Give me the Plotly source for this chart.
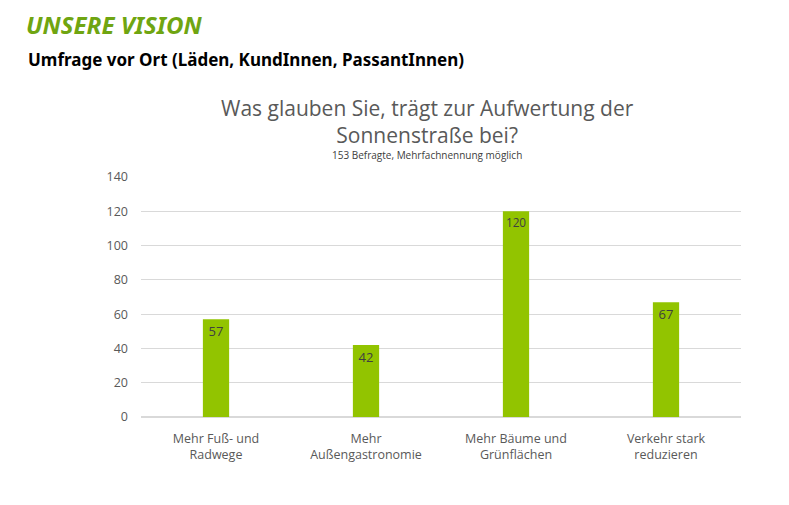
import plotly.graph_objects as go

categories = ["Mehr Fuß- und<br>Radwege", "Mehr<br>Außengastronomie", "Mehr Bäume und<br>Grünflächen", "Verkehr stark<br>reduzieren"]
values = [57, 42, 120, 67]
y_ticks = [0, 20, 40, 60, 80, 100, 120, 140]

# page body has an 8px margin; compensate so the figure lands where the reference is
OFF = 8
W, H = 789 - OFF, 505 - OFF
L, R, T, B = 141 - OFF, 48, 177 - OFF, 88

fig = go.Figure()
fig.add_trace(go.Bar(
    x=categories, y=values, width=0.175,
    marker=dict(color="#92C400", line=dict(width=0)),
    text=[str(v) for v in values], textposition="inside", insidetextanchor="end",
    textfont=dict(family="Open Sans", size=13, color="#404040"),
    textangle=0,
))

def px_y(y):
    y = y - OFF
    return 1 - (y - T) / (H - T - B)

def px_x(x):
    x = x - OFF
    return (x - L) / (W - L - R)

ann = [
    dict(text="<b><i>UNSERE VISION</i></b>", x=px_x(25), y=px_y(24.5), xanchor="left", yanchor="middle",
         borderpad=0, font=dict(family="Noto Sans", size=24, color="#6FA511")),
    dict(text="<b>Umfrage vor Ort (Läden, KundInnen, PassantInnen)</b>", x=px_x(26), y=px_y(59), xanchor="left", yanchor="middle",
         font=dict(family="Noto Sans", size=17, color="#000000")),
    dict(text="Was glauben Sie, trägt zur Aufwertung der<br>Sonnenstraße bei?", x=px_x(427), y=px_y(122), xanchor="center", yanchor="middle",
         font=dict(family="Open Sans", size=21, color="#595959")),
    dict(text="153 Befragte, Mehrfachnennung möglich", x=px_x(427), y=px_y(155), xanchor="center", yanchor="middle",
         font=dict(family="Open Sans", size=10, color="#404040")),
]
for a in ann:
    a.update(xref="paper", yref="paper", showarrow=False)

fig.update_layout(
    width=W, height=H, margin=dict(l=L, r=R, t=T, b=B),
    paper_bgcolor="white", plot_bgcolor="white",
    showlegend=False, annotations=ann,
    xaxis=dict(showgrid=False, showline=False, ticks="", zeroline=False,
               tickfont=dict(family="Open Sans", size=12.5, color="#595959")),
    yaxis=dict(range=[0, 140], tickvals=y_ticks, showgrid=True, gridcolor="#D9D9D9", gridwidth=1,
               zeroline=True, zerolinecolor="#D9D9D9", showline=False, ticks="", ticklen=0,
               tickfont=dict(family="Open Sans", size=12.5, color="#595959")),
)
fig.update_yaxes(ticklabelstandoff=12)
fig.update_xaxes(ticklabelstandoff=12)
fig.write_html("out.html")
